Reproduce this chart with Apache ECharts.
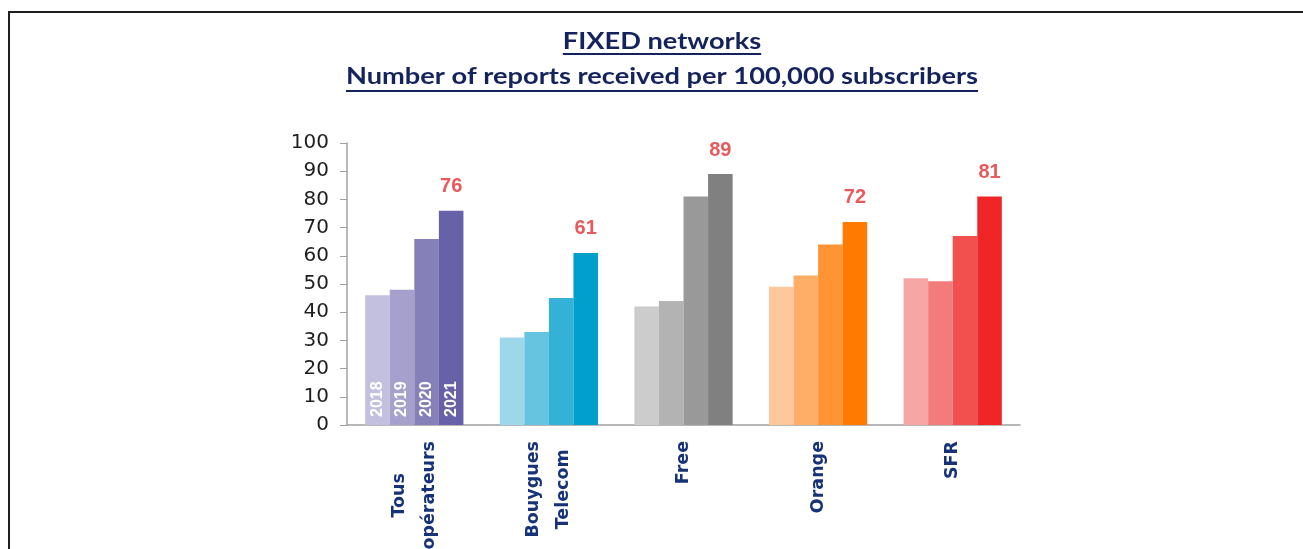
<!DOCTYPE html>
<html>
<head>
<meta charset="utf-8">
<script src="https://cdn.jsdelivr.net/npm/echarts@6/dist/echarts.min.js"></script>
<style>
html, body { margin: 0; padding: 0; background: #fff; }
#main { width: 1303px; height: 549px; }
</style>
</head>
<body>
<div id="main"></div>
<script>
var operators = ['Tous\nopérateurs', 'Bouygues\nTelecom', 'Free', 'Orange', 'SFR'];
var years = ['2018', '2019', '2020', '2021'];
var v2018 = [46, 31, 42, 49, 52];
var v2019 = [48, 33, 44, 53, 51];
var v2020 = [66, 45, 81, 64, 67];
var v2021 = [76, 61, 89, 72, 81];

var colors2018 = ['#c3bfdf', '#9dd8ea', '#cccccc', '#fec89b', '#f7a6a6'];
var colors2019 = ['#a5a0cc', '#66c4e0', '#b3b3b3', '#feae66', '#f47b7b'];
var colors2020 = ['#8680b9', '#33b1d6', '#999999', '#fe9433', '#f24f4f'];
var colors2021 = ['#6761a8', '#009fcc', '#808080', '#ff7a00', '#f02626'];

var titleLine1 = 'FIXED networks';
var titleLine2 = 'Number of reports received per 100,000 subscribers';

var navy = '#14235e';
var labelBlue = '#163278';
var titleFont = 'bold 23px Lato';

var chartDom = document.getElementById('main');
var myChart = echarts.init(chartDom);

// measure title so the text can be widened like the original and underlined
var ctx = document.createElement('canvas').getContext('2d');
ctx.font = titleFont;
var sx = 632 / ctx.measureText(titleLine2).width;
var w1 = ctx.measureText(titleLine1).width * sx;
var w2 = ctx.measureText(titleLine2).width * sx;
var cx = 662;

function barSeries(name, values, colors) {
  return {
    name: name,
    type: 'bar',
    stack: name,
    barGap: '0%',
    barCategoryGap: '27%',
    data: values.map(function (v, i) {
      var item = { value: v, itemStyle: { color: colors[i] } };
      if (i === 0) item.label = { show: true };
      return item;
    }),
    label: {
      show: false,
      formatter: name,
      position: 'insideBottom',
      rotate: 90,
      align: 'left',
      verticalAlign: 'middle',
      distance: 8,
      color: '#ffffff',
      fontFamily: 'Liberation Sans',
      fontWeight: 'bold',
      fontSize: 16
    }
  };
}

var series = [
  barSeries('2018', v2018, colors2018),
  barSeries('2019', v2019, colors2019),
  barSeries('2020', v2020, colors2020),
  barSeries('2021', v2021, colors2021),
  {
    // zero bars stacked on 2021, only to carry the value labels
    name: '2021 values',
    type: 'bar',
    stack: '2021',
    silent: true,
    data: v2021.map(function () { return 0; }),
    label: {
      show: true,
      position: 'top',
      distance: 14,
      formatter: function (p) { return v2021[p.dataIndex]; },
      color: '#e85a5c',
      fontFamily: 'Liberation Sans',
      fontWeight: 'bold',
      fontSize: 20
    }
  }
];

var option = {
  animation: false,
  backgroundColor: '#ffffff',
  grid: { left: 347, right: 283, top: 143, bottom: 124, containLabel: false, outerBoundsMode: 'none' },
  xAxis: {
    type: 'category',
    data: operators,
    axisLine: { lineStyle: { color: '#a0a0a0', width: 1.5 } },
    axisTick: { length: 7, lineStyle: { color: '#a0a0a0' } },
    axisLabel: {
      interval: 0,
      rotate: 90,
      margin: 16,
      formatter: function (value) {
        return value.split('\n').map(function (s) { return '{c|' + s + '}'; }).join('\n');
      },
      rich: {
        c: {
          align: 'center',
          fontFamily: 'DejaVu Sans',
          fontWeight: 'bold',
          fontSize: 17.5,
          lineHeight: 30,
          color: labelBlue
        }
      }
    }
  },
  yAxis: {
    type: 'value',
    min: 0,
    max: 100,
    interval: 10,
    splitLine: { show: false },
    axisLine: { show: true, lineStyle: { color: '#a0a0a0', width: 1.5 } },
    axisTick: { show: true, length: 7, lineStyle: { color: '#a0a0a0' } },
    axisLabel: {
      margin: 18,
      color: '#1e1e1e',
      fontFamily: 'DejaVu Sans',
      fontSize: 20
    }
  },
  graphic: [
    {
      type: 'rect',
      silent: true,
      shape: { x: 9, y: 12, width: 1400, height: 700 },
      style: { fill: 'none', stroke: '#1e1e1e', lineWidth: 2 }
    },
    {
      type: 'text',
      x: cx, y: 42, scaleX: sx,
      style: { text: titleLine1, font: titleFont, fill: navy, align: 'center', verticalAlign: 'middle' }
    },
    {
      type: 'rect',
      shape: { x: cx - w1 / 2, y: 53, width: w1, height: 2 },
      style: { fill: navy }
    },
    {
      type: 'text',
      x: cx, y: 77, scaleX: sx,
      style: { text: titleLine2, font: titleFont, fill: navy, align: 'center', verticalAlign: 'middle' }
    },
    {
      type: 'rect',
      shape: { x: cx - w2 / 2, y: 90, width: w2, height: 2 },
      style: { fill: navy }
    }
  ],
  series: series
};

option && myChart.setOption(option);
</script>
</body>
</html>
